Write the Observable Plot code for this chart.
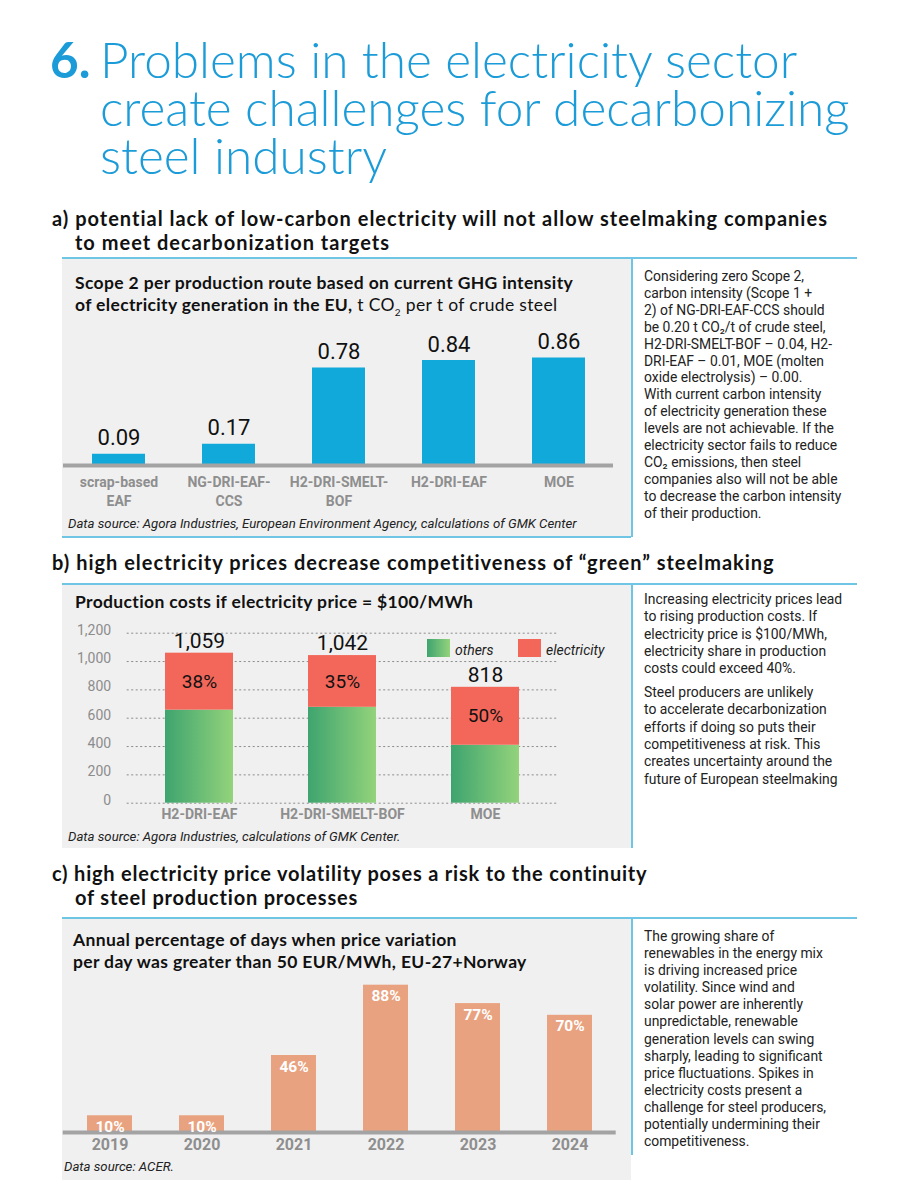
<!DOCTYPE html>
<html><head><meta charset="utf-8">
<script src="https://cdn.jsdelivr.net/npm/d3@7"></script>
<script src="https://cdn.jsdelivr.net/npm/@observablehq/plot@0.6"></script>
<style>
body{margin:0;background:#fff;width:902px;height:1200px;position:relative;overflow:hidden;font-family:Roboto,sans-serif;}
.abs{position:absolute;}
.title{color:#1b9bd7;font-family:Lato;font-weight:300;font-size:49.5px;line-height:48px;white-space:nowrap;}
.title b{font-weight:700;display:inline-block;width:50px;margin-left:-50px;}
.hdr{font-family:Lato;font-weight:700;font-size:20px;letter-spacing:1px;line-height:22px;color:#111;white-space:nowrap}
.ctitle{font-family:Lato;font-weight:700;font-size:17.5px;letter-spacing:0.35px;color:#111;line-height:22px;white-space:nowrap}
.ctitle span{font-weight:400}
.src{font-family:Roboto;font-style:italic;font-size:13.2px;line-height:16px;color:#222;white-space:nowrap}
.note{font-family:Roboto;font-size:13.9px;line-height:17px;color:#222;white-space:nowrap}
.gray{background:#f0f0f0}
.bl{background:#6ec6e4}
.leg{font-family:Roboto;font-style:italic;font-size:14px;color:#222;line-height:18px}
</style></head><body>
<svg width="0" height="0" style="position:absolute"><defs>
<linearGradient id="gGreen" x1="0" x2="1" y1="0" y2="0"><stop offset="0" stop-color="#3ea46f"/><stop offset="1" stop-color="#93d37b"/></linearGradient>
</defs></svg>

<div class="abs title" style="left:100px;top:35px"><b>6.</b>Problems in the electricity sector<br>create challenges for decarbonizing<br>steel industry</div>

<div class="abs hdr" style="left:52px;top:207px">a) potential lack of low-carbon electricity will not allow steelmaking companies</div>
<div class="abs hdr" style="left:75px;top:231px">to meet decarbonization targets</div>
<div class="abs gray" style="left:62px;top:259px;width:569px;height:278px"></div>
<div class="abs bl" style="left:62px;top:257px;width:795px;height:2px"></div>
<div class="abs bl" style="left:631px;top:257px;width:2px;height:280px"></div>
<div class="abs bl" style="left:62px;top:536px;width:569px;height:1.5px"></div>
<div class="abs ctitle" style="left:75px;top:272px">Scope 2 per production route based on current GHG intensity<br>of electricity generation in the EU,<span> t CO<sub style="font-size:10px">2</sub> per t of crude steel</span></div>
<div class="abs" id="chartA" style="left:62px;top:320px"></div>
<div class="abs src" style="left:68px;top:516px">Data source: Agora Industries, European Environment Agency, calculations of GMK Center</div>
<div class="abs note" style="left:644px;top:268px;line-height:16.9px">Considering zero Scope 2,<br>carbon intensity (Scope 1 +<br>2) of NG-DRI-EAF-CCS should<br>be 0.20 t CO₂/t of crude steel,<br>H2-DRI-SMELT-BOF – 0.04, H2-<br>DRI-EAF – 0.01, MOE (molten<br>oxide electrolysis) – 0.00.<br>With current carbon intensity<br>of electricity generation these<br>levels are not achievable. If the<br>electricity sector fails to reduce<br>CO₂ emissions, then steel<br>companies also will not be able<br>to decrease the carbon intensity<br>of their production.</div>

<div class="abs hdr" style="left:52px;top:551px">b) high electricity prices decrease competitiveness of “green” steelmaking</div>
<div class="abs gray" style="left:62px;top:585px;width:569px;height:263px"></div>
<div class="abs bl" style="left:62px;top:583px;width:795px;height:2px"></div>
<div class="abs bl" style="left:631px;top:583px;width:2px;height:265px"></div>
<div class="abs ctitle" style="left:75px;top:591px">Production costs if electricity price = $100/MWh</div>
<div class="abs" id="chartB" style="left:62px;top:615px"></div>
<div class="abs" style="left:427px;top:639px;width:23px;height:18px;background:linear-gradient(to right,#3ea46f,#93d37b)"></div>
<div class="abs leg" style="left:455px;top:641px">others</div>
<div class="abs" style="left:518px;top:639px;width:23px;height:18px;background:#f2675a"></div>
<div class="abs leg" style="left:546px;top:641px">electricity</div>
<div class="abs src" style="left:68px;top:829px">Data source: Agora Industries, calculations of GMK Center.</div>
<div class="abs note" style="left:644px;top:591px;line-height:17.3px">Increasing electricity prices lead<br>to rising production costs. If<br>electricity price is $100/MWh,<br>electricity share in production<br>costs could exceed 40%.<div style="height:6.7px"></div>Steel producers are unlikely<br>to accelerate decarbonization<br>efforts if doing so puts their<br>competitiveness at risk. This<br>creates uncertainty around the<br>future of European steelmaking</div>

<div class="abs hdr" style="left:52px;top:862px;letter-spacing:0.8px">c) high electricity price volatility poses a risk to the continuity</div>
<div class="abs hdr" style="left:75px;top:886px;letter-spacing:0.8px">of steel production processes</div>
<div class="abs gray" style="left:62px;top:919px;width:569px;height:261px"></div>
<div class="abs bl" style="left:62px;top:917px;width:795px;height:2px"></div>
<div class="abs bl" style="left:631px;top:917px;width:2px;height:238px"></div>
<div class="abs ctitle" style="left:73px;top:929px">Annual percentage of days when price variation<br>per day was greater than 50 EUR/MWh, EU-27+Norway</div>
<div class="abs" id="chartC" style="left:62px;top:980px"></div>
<div class="abs src" style="left:64px;top:1159px">Data source: ACER.</div>
<div class="abs note" style="left:644px;top:928px;line-height:17.1px">The growing share of<br>renewables in the energy mix<br>is driving increased price<br>volatility. Since wind and<br>solar power are inherently<br>unpredictable, renewable<br>generation levels can swing<br>sharply, leading to significant<br>price fluctuations. Spikes in<br>electricity costs present a<br>challenge for steel producers,<br>potentially undermining their<br>competitiveness.</div>

<script>
// ---- data ----
const routesA = ["scrap-based\nEAF", "NG-DRI-EAF-\nCCS", "H2-DRI-SMELT-\nBOF", "H2-DRI-EAF", "MOE"];
const scope2 = [0.09, 0.17, 0.78, 0.84, 0.86];

const routesB = ["H2-DRI-EAF", "H2-DRI-SMELT-BOF", "MOE"];
const othersCost = [657, 677, 409];
const electricityCost = [402, 365, 409];
const totalLabels = ["1,059", "1,042", "818"];
const shareLabels = ["38%", "35%", "50%"];
const costTicks = [0, 200, 400, 600, 800, 1000, 1200];

const years = ["2019", "2020", "2021", "2022", "2023", "2024"];
const volatileShare = [10, 10, 46, 88, 77, 70];

const baseStyle = {background: "transparent", fontFamily: "Roboto", overflow: "visible"};

// ---- chart A ----
const dataA = routesA.map((r, i) => ({route: r, value: scope2[i]}));
const chartA = Plot.plot({
  width: 570, height: 200, marginLeft: 1, marginRight: 19, marginTop: 0, marginBottom: 0,
  style: baseStyle,
  x: {type: "band", domain: routesA, paddingInner: 0.519, paddingOuter: 0.2595, axis: null},
  y: {domain: [0, 1], range: [145, 20], axis: null},
  marks: [
    Plot.barY(dataA, {x: "route", y: "value", fill: "#11a8da"}),
    Plot.ruleY([0], {stroke: "#a3a3a3", strokeWidth: 4}),
    Plot.text(dataA, {x: "route", y: "value", text: d => d.value.toFixed(2), dy: -16, fontSize: 22, fill: "#111"}),
    Plot.text(dataA, {x: "route", y: 0, text: "route", lineAnchor: "top", dy: 8, fontSize: 14, fontWeight: "bold", fill: "#8e8e8e", lineHeight: 1.36})
  ]
});
document.getElementById("chartA").append(chartA);

// ---- chart B ----
const rowsB = routesB.map((r, i) => ({
  route: r, others: othersCost[i], electricity: electricityCost[i],
  total: othersCost[i] + electricityCost[i], totalLabel: totalLabels[i], share: shareLabels[i]
}));
const chartB = Plot.plot({
  width: 570, height: 215, marginLeft: 64.7, marginRight: 73.7, marginTop: 0, marginBottom: 0,
  style: baseStyle,
  x: {type: "band", domain: routesB, paddingInner: 0.524, paddingOuter: 0.262, axis: null},
  y: {domain: [0, 1200], range: [187.7, 17.7], axis: null},
  marks: [
    Plot.gridY(costTicks, {stroke: "#8c8c8c", strokeOpacity: 1, strokeDasharray: "2,2.5"}),
    Plot.axisY(costTicks, {tickSize: 0, tickPadding: 16, tickFormat: d3.format(","), fill: "#8c8c8c", fontSize: 14, dy: -3}),
    Plot.barY(rowsB, {x: "route", y1: 0, y2: "others", fill: "url(#gGreen)"}),
    Plot.barY(rowsB, {x: "route", y1: "others", y2: "total", fill: "#f2675a"}),
    Plot.text(rowsB, {x: "route", y: "total", text: "totalLabel", dy: -12, fontSize: 21, fill: "#111"}),
    Plot.text(rowsB, {x: "route", y: d => d.others + d.electricity / 2, text: "share", fontSize: 19, fill: "#111"}),
    Plot.text(rowsB, {x: "route", y: 0, text: "route", lineAnchor: "top", dy: 6, fontSize: 14, fontWeight: "bold", fill: "#8e8e8e"})
  ]
});
document.getElementById("chartB").append(chartB);

// ---- chart C ----
const dataC = years.map((y, i) => ({year: y, value: volatileShare[i]}));
const chartC = Plot.plot({
  width: 570, height: 185, marginLeft: 0.7, marginRight: 16.3, marginTop: 0, marginBottom: 0,
  style: baseStyle,
  x: {type: "band", domain: years, paddingInner: 0.515, paddingOuter: 0.2575, axis: null},
  y: {domain: [0, 100], range: [152, -15.4], axis: null},
  marks: [
    Plot.barY(dataC, {x: "year", y: "value", fill: "#e9a27f"}),
    Plot.ruleY([0], {stroke: "#a3a3a3", strokeWidth: 4}),
    Plot.text(dataC, {x: "year", y: "value", text: d => d.value + "%", lineAnchor: "top", dy: 5, fontSize: 15.5, fontWeight: "bold", fill: "#fff"}),
    Plot.text(dataC, {x: "year", y: 0, text: "year", lineAnchor: "top", dy: 6, fontSize: 16, fontWeight: "bold", fill: "#8e8e8e"})
  ]
});
document.getElementById("chartC").append(chartC);
</script>
</body></html>
